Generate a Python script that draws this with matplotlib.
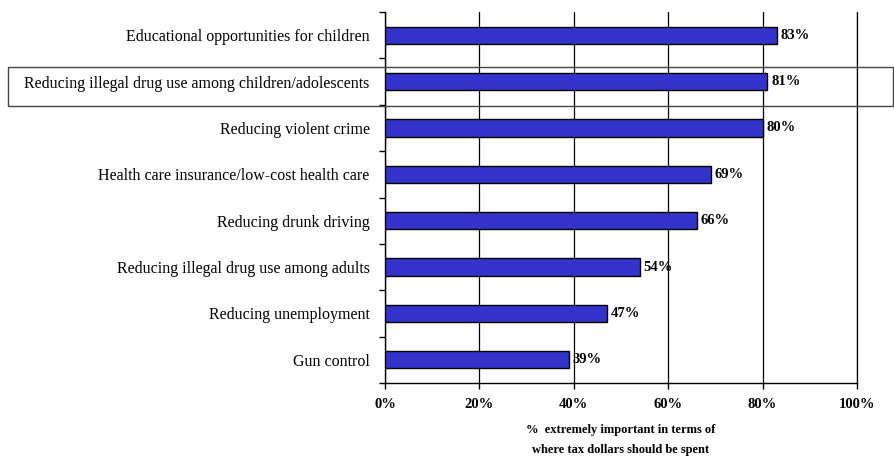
import matplotlib.pyplot as plt
from matplotlib.patches import Rectangle

plt.rcParams['font.family'] = ['Liberation Serif', 'DejaVu Serif']

categories = ['Educational opportunities for children',
              'Reducing illegal drug use among children/adolescents',
              'Reducing violent crime',
              'Health care insurance/low-cost health care',
              'Reducing drunk driving',
              'Reducing illegal drug use among adults',
              'Reducing unemployment',
              'Gun control']
values = [83, 81, 80, 69, 66, 54, 47, 39]
x_ticks = [0, 20, 40, 60, 80, 100]

fig = plt.figure(figsize=(8.94, 4.57), dpi=100)
ax = fig.add_axes([385 / 894, 1 - 383 / 457, 472 / 894, 371 / 457])

y = list(range(len(categories)))[::-1]
ax.barh(y, values, height=0.37, color='#3333cc', edgecolor='black', linewidth=1, zorder=3)

for yi, v in zip(y, values):
    ax.text(v + 0.8, yi, f'{v}%', va='center', ha='left', fontsize=10.5, fontweight='bold', zorder=4)

ax.set_xlim(0, 100)
ax.set_ylim(-0.5, len(categories) - 0.5)
ax.set_xticks(x_ticks)
ax.set_xticklabels([f'{t}%' for t in x_ticks], fontsize=10.5, fontweight='bold')
ax.set_yticks(y)
ax.set_yticklabels(categories, fontsize=11.5)
ax.tick_params(axis='y', length=0, pad=11)
ax.tick_params(axis='x', length=4, width=1, pad=7)

# y-axis ticks sit between the categories
ax.set_yticks([i - 0.5 for i in range(len(categories) + 1)], minor=True)
ax.tick_params(axis='y', which='minor', length=4, width=1)

ax.grid(axis='x', color='black', linewidth=0.9, zorder=0)
ax.spines['top'].set_visible(False)
ax.spines['right'].set_linewidth(0.9)
ax.spines['left'].set_linewidth(1)
ax.spines['bottom'].set_linewidth(1)

ax.set_xlabel('%  extremely important in terms of\nwhere tax dollars should be spent',
              fontsize=9, fontweight='bold', labelpad=9, linespacing=1.9)

# outline around the highlighted category
fig.patches.append(Rectangle((8 / 894, 1 - 106 / 457), 885 / 894, 39 / 457,
                             transform=fig.transFigure, fill=False,
                             edgecolor='#444444', linewidth=1))

fig.savefig('out.png', dpi=100)
